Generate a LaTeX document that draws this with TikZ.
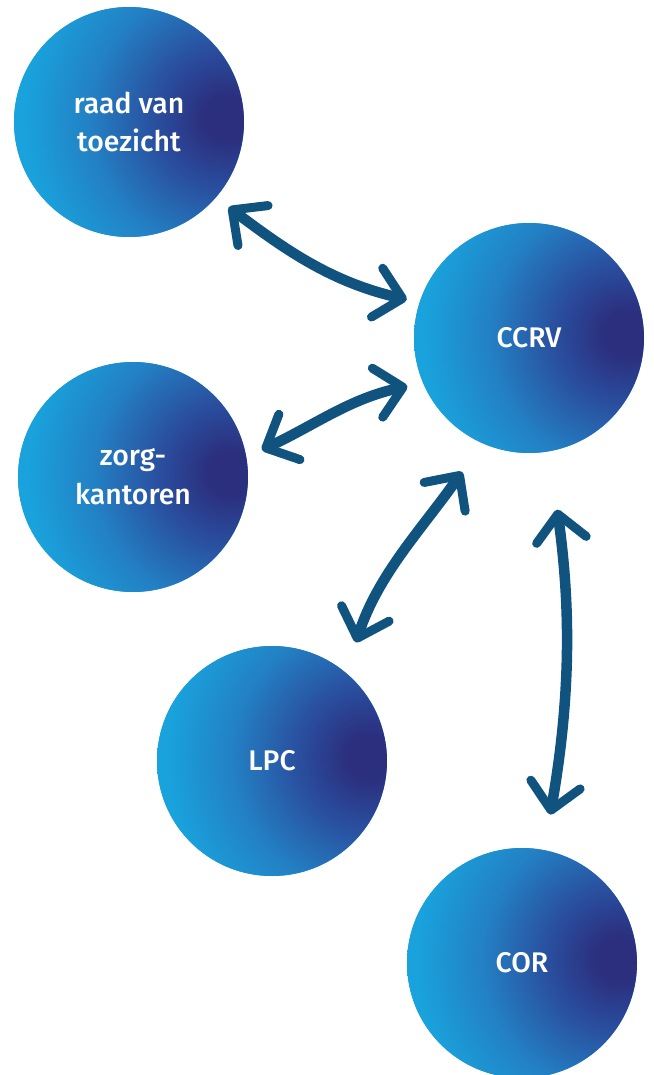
\documentclass[tikz,border=0pt]{standalone}
\usepackage{fontspec}
\setmainfont{Fira Sans}[BoldFont=* Medium]
\usepackage{tikz}
\usetikzlibrary{positioning,arrows.meta}
\definecolor{navy}{HTML}{2B2F7E}
\definecolor{deepblue}{HTML}{2A4E9E}
\definecolor{midblue}{HTML}{2380C4}
\definecolor{skyblue}{HTML}{19A2DC}
\definecolor{linkblue}{HTML}{11537F}

\pgfdeclareradialshading{blobshade}{\pgfpoint{0bp}{0bp}}{color(0bp)=(navy); color(2.5bp)=(navy); color(8bp)=(deepblue); color(15.5bp)=(midblue); color(23bp)=(skyblue); color(50bp)=(skyblue)}

\tikzset{
  bubble/.style={circle, minimum size=230bp, inner sep=0pt, text=white, fill=skyblue,
    font=\fontsize{28.5}{39}\selectfont\bfseries, align=center,
    path picture={\shade[shading=blobshade] ([shift={(97,4)}]path picture bounding box.center) circle (220);}},
  link/.style={draw=linkblue, line width=10.5bp, line cap=round, <->,
    >={Straight Barb[length=26bp, width=50bp, line width=9bp, round]}}
}

\begin{document}
\begin{tikzpicture}[x=1bp, y=1bp]
    % Page
    \useasboundingbox (0,0) rectangle (654,-1075);

    % Bubbles
    \node[bubble] (raad) at (129,-122) {raad van\\toezicht};
    \node[bubble] (ccrv) at (529,-338) {CCRV};
    \node[bubble] (zorg) at (133,-477) {zorg-\\kantoren};
    \node[bubble] (lpc) at (272,-761) {LPC};
    \node[bubble] (cor) at (522,-963) {COR};

    % Links to CCRV
    \draw[link, shorten <=16, shorten >=13] (raad.-41) to[out=-37, in=167] (ccrv.162);
    \draw[link, shorten <=17, shorten >=16] (zorg.10) to[out=25, in=192] (ccrv.203);
    \draw[link, shorten <=32, shorten >=35] (lpc.50) to[out=72, in=235] (ccrv.246);
    \draw[link, shorten <=59, shorten >=36] (ccrv.-80) to[out=-82, in=80] (cor.79);
\end{tikzpicture}
\end{document}
